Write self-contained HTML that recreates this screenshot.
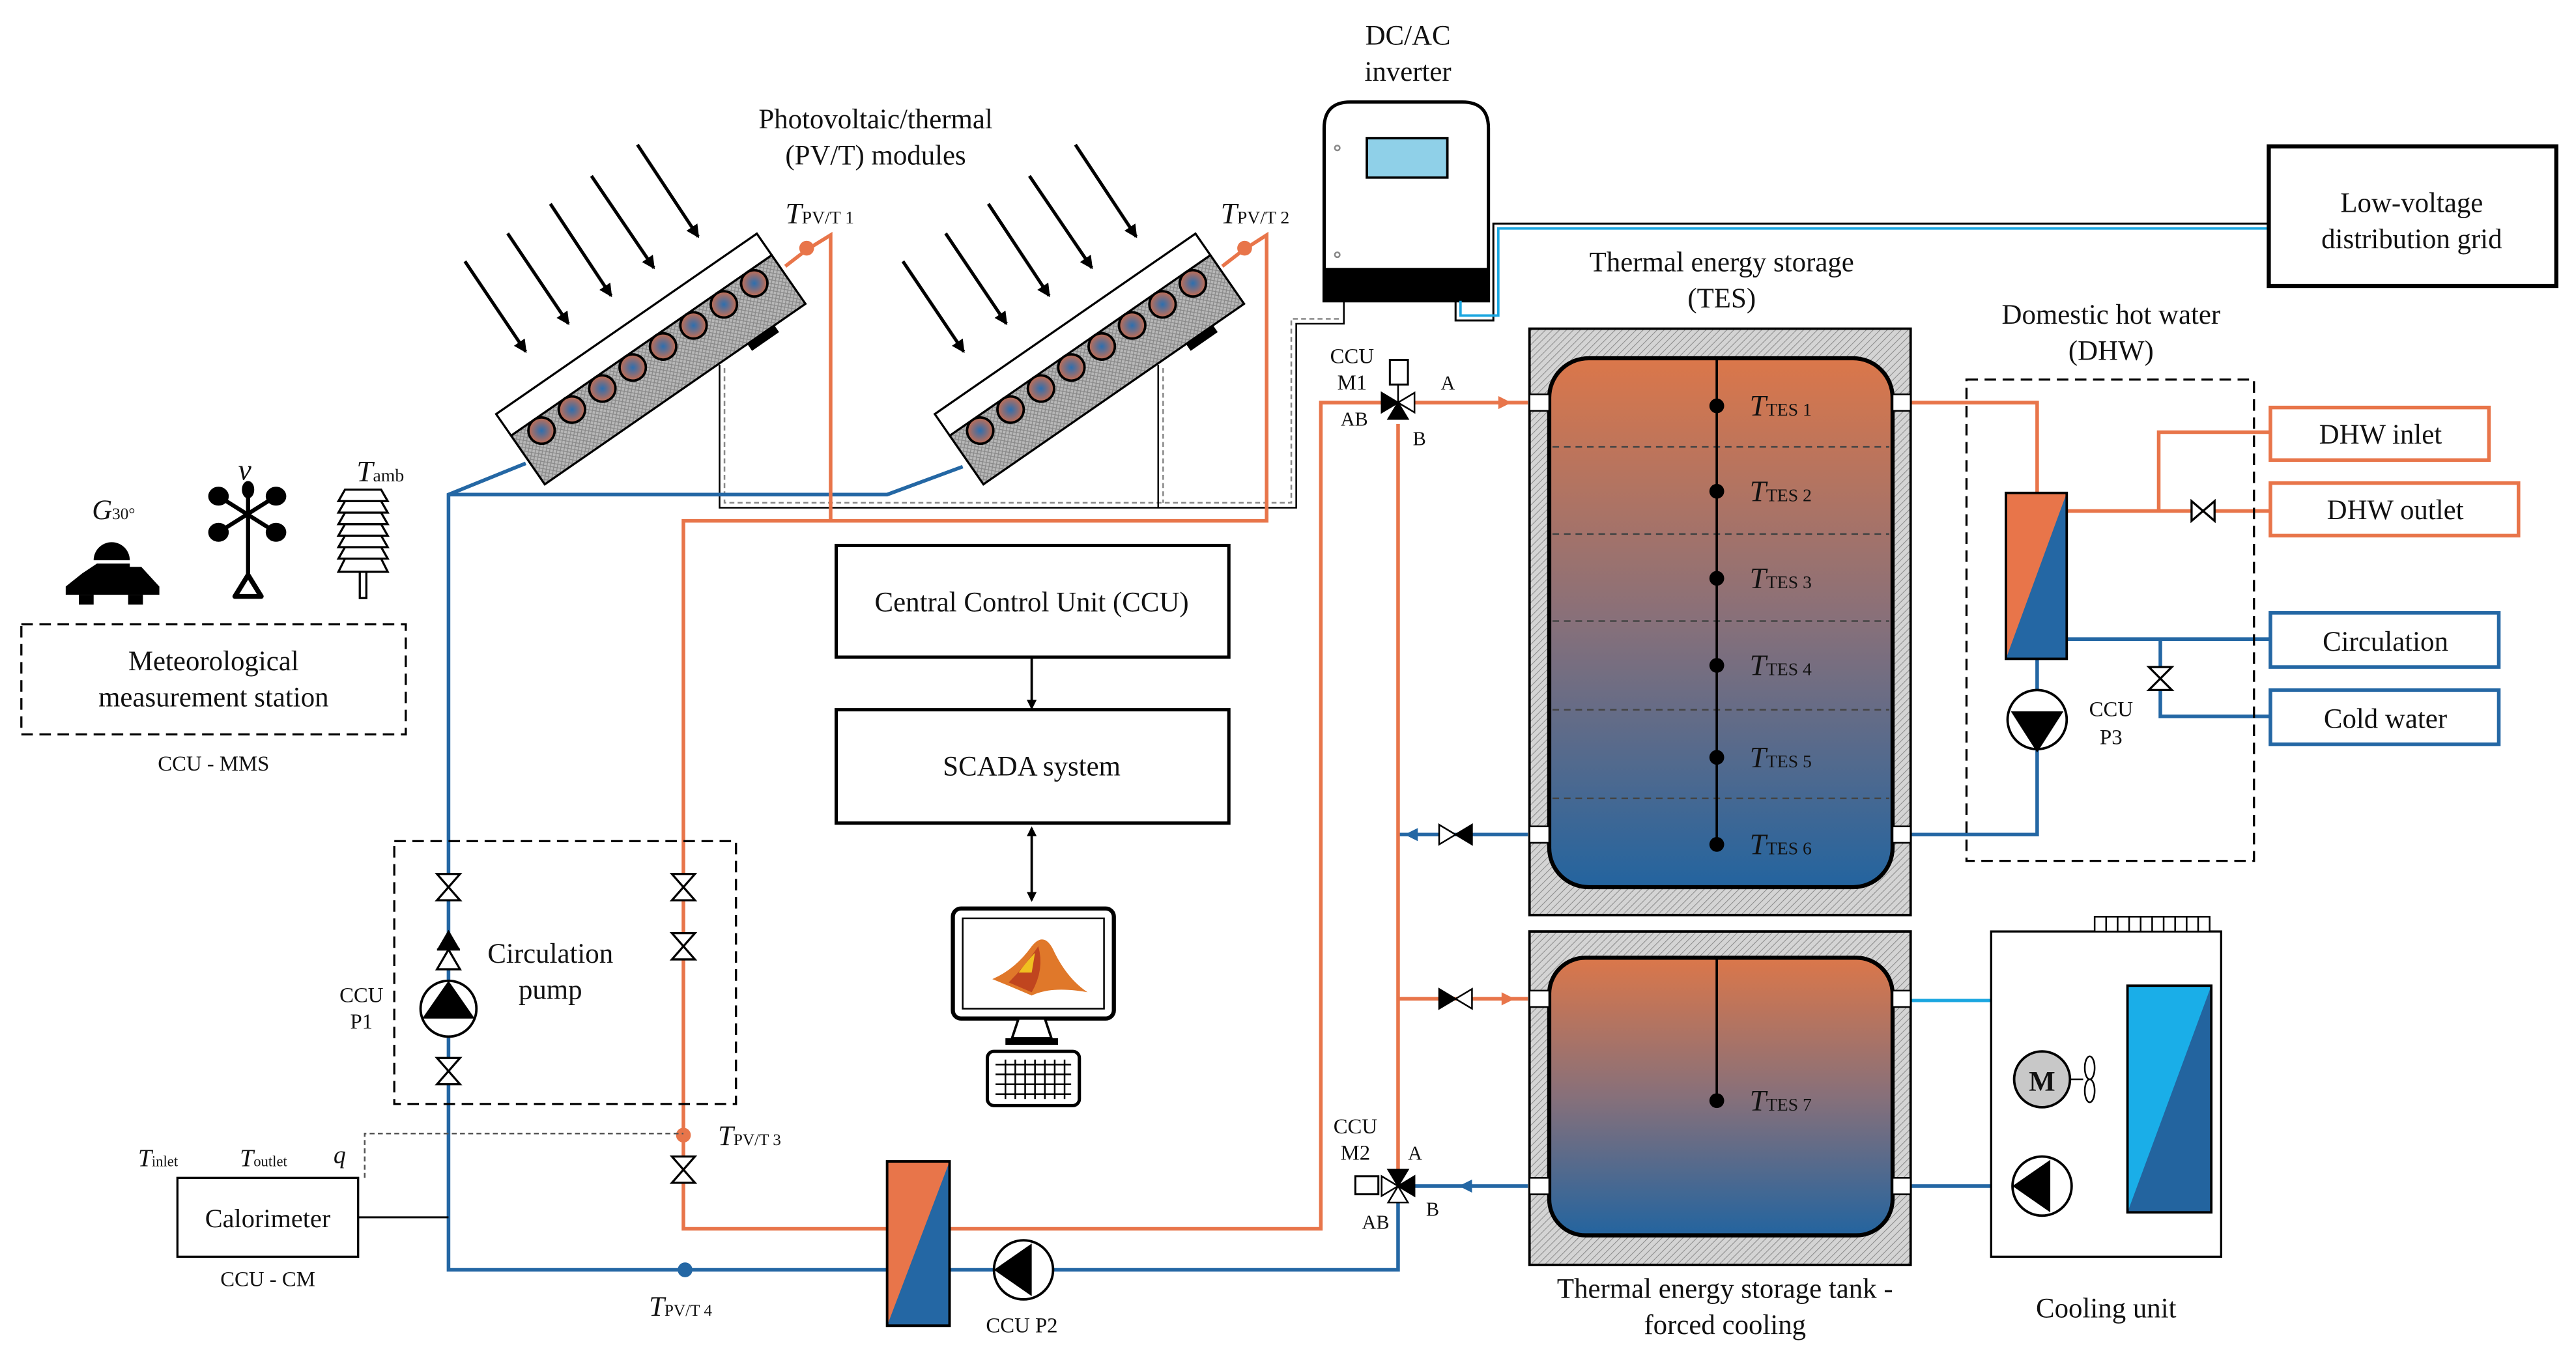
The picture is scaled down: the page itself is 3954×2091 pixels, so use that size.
<!DOCTYPE html>
<html><head><meta charset="utf-8"><style>
html,body{margin:0;padding:0;background:#fff;}
svg{display:block;}
text{font-family:"Liberation Serif",serif;fill:#111;}
</style></head><body>
<svg width="3954" height="2091" viewBox="0 0 1568 829" xmlns="http://www.w3.org/2000/svg">
<defs>
<pattern id="hatch" width="3" height="3" patternUnits="userSpaceOnUse" patternTransform="rotate(45)">
<rect width="3" height="3" fill="#d4d4d4"/><line x1="0" y1="0" x2="0" y2="3" stroke="#8a8a8a" stroke-width="0.8"/></pattern>
<pattern id="cross" width="3" height="3" patternUnits="userSpaceOnUse">
<rect width="3" height="3" fill="#b8b8b8"/><path d="M0 0L3 3M3 0L0 3" stroke="#888" stroke-width="0.5"/></pattern>
<linearGradient id="tg" x1="0" y1="0" x2="0" y2="1"><stop offset="0" stop-color="#db774a"/><stop offset="0.5" stop-color="#87707a"/><stop offset="1" stop-color="#23649f"/></linearGradient>
<radialGradient id="cg"><stop offset="0" stop-color="#2c6fb0"/><stop offset="1" stop-color="#c96d50"/></radialGradient>
<marker id="ah" markerWidth="8" markerHeight="8" refX="7" refY="4" orient="auto" markerUnits="userSpaceOnUse"><path d="M0 0L8 4L0 8Z" fill="#000"/></marker>
<marker id="ahs" markerWidth="6" markerHeight="6" refX="5" refY="3" orient="auto" markerUnits="userSpaceOnUse"><path d="M0 0L6 3L0 6Z" fill="#000"/></marker>
<marker id="ahs2" markerWidth="6" markerHeight="6" refX="1" refY="3" orient="auto" markerUnits="userSpaceOnUse"><path d="M6 0L0 3L6 6Z" fill="#000"/></marker>
<g id="panel">
<rect x="0" y="0" width="193" height="16" fill="#fff" stroke="#000" stroke-width="1.3"/>
<rect x="0" y="16" width="193" height="36" fill="url(#cross)" stroke="#000" stroke-width="1.3"/>
<g stroke="#000" stroke-width="1.5" fill="url(#cg)">
<circle cx="17" cy="24" r="8"/><circle cx="39.5" cy="24" r="8"/><circle cx="62" cy="24" r="8"/><circle cx="84.5" cy="24" r="8"/><circle cx="107" cy="24" r="8"/><circle cx="129.5" cy="24" r="8"/><circle cx="152" cy="24" r="8"/><circle cx="174.5" cy="24" r="8"/></g>
<rect x="150" y="52" width="20" height="5" fill="#000"/>
</g>
<g id="arrows" stroke="#000" stroke-width="2" marker-end="url(#ah)">
<line x1="283" y1="159" x2="320" y2="214"/><line x1="309" y1="142" x2="346" y2="197"/><line x1="335" y1="124" x2="372" y2="180"/><line x1="360" y1="107" x2="398" y2="163"/><line x1="388" y1="88" x2="425" y2="144"/></g>
</defs>

<use href="#arrows"/><use href="#arrows" transform="translate(266.6,0)"/>
<path d="M438 222V309H789V197H818V183" fill="none" stroke="#000" stroke-width="1"/>
<path d="M441 224V306H786V194H815" fill="none" stroke="#888" stroke-width="1" stroke-dasharray="3,2"/>
<path d="M705 222V309" fill="none" stroke="#000" stroke-width="1"/>
<path d="M708 224V306" fill="none" stroke="#888" stroke-width="1" stroke-dasharray="3,2"/>

<g stroke="#2467a4" stroke-width="2.2" fill="none">
<path d="M320 282L273 301V773H540"/>
<path d="M586 284L540 301H273"/>
<path d="M578 773H851V722"/>
<path d="M930 508H851"/>
<path d="M1160 508H1240V401"/>
<path d="M1258 389H1382"/>
<path d="M1315 389V436H1382"/>
<path d="M930 722H858"/>
<path d="M1160 722H1295"/>
</g>
<path d="M1160 609H1295" stroke="#1aa6e0" stroke-width="2"/>
<path d="M855 508l8-4v8z M888 722l8-4v8z" fill="#2467a4"/>
<g stroke="#e8754a" stroke-width="2.2" fill="none">
<path d="M478 162L491 152L505.6 143V317"/>
<path d="M744 162L757 152L771 143V317H416V748H540"/>
<path d="M578 748H804V245H842"/>
<path d="M860 245H930"/>
<path d="M851 258V712"/>
<path d="M851 608H930"/>
<path d="M1160 245H1240V300"/>
<path d="M1258 311H1382"/>
<path d="M1314 311V263H1382"/>
</g>
<path d="M920 245l-8-4v8z M922 608l-8-4v8z" fill="#e8754a"/>
<circle cx="491" cy="151" r="4.5" fill="#e8754a"/><circle cx="757.6" cy="151" r="4.5" fill="#e8754a"/>
<circle cx="416" cy="691" r="4.5" fill="#e8754a"/><circle cx="417" cy="773" r="4.5" fill="#2467a4"/>

<use href="#panel" transform="translate(302,252) rotate(-34.7)"/>
<use href="#panel" transform="translate(569,252) rotate(-34.7)"/>

<text x="533" y="78" font-size="17" text-anchor="middle">Photovoltaic/thermal</text>
<text x="533" y="100" font-size="17" text-anchor="middle">(PV/T) modules</text>
<text x="478" y="136"><tspan font-style="italic" font-size="18">T</tspan><tspan font-size="11">PV/T 1</tspan></text>
<text x="743" y="136"><tspan font-style="italic" font-size="18">T</tspan><tspan font-size="11">PV/T 2</tspan></text>

<text x="857" y="27" font-size="17" text-anchor="middle">DC/AC</text>
<text x="857" y="49" font-size="17" text-anchor="middle">inverter</text>
<path d="M822 62H890Q906 62 906 78V183H806V78Q806 62 822 62Z" fill="#fff" stroke="#000" stroke-width="2"/>
<path d="M806 163H906V183H806Z" fill="#000"/>
<rect x="832" y="84" width="49" height="24" fill="#8fd0e8" stroke="#000" stroke-width="1.5"/>
<circle cx="814" cy="90" r="1.5" fill="none" stroke="#888"/><circle cx="814" cy="155" r="1.5" fill="none" stroke="#888"/>
<path d="M886 183V195H909V136H1381" fill="none" stroke="#000" stroke-width="1.2"/>
<path d="M889 183V192H912V139H1381" fill="none" stroke="#1aa6e0" stroke-width="1.5"/>
<rect x="1381" y="89" width="175" height="85" fill="#fff" stroke="#000" stroke-width="2.5"/>
<text x="1468" y="129" font-size="17" text-anchor="middle">Low-voltage</text>
<text x="1468" y="151" font-size="17" text-anchor="middle">distribution grid</text>

<text x="56" y="316" font-size="17" font-style="italic">G<tspan font-size="10" font-style="normal">30°</tspan></text>
<path d="M57 341a11 11 0 0 1 22 0Z" fill="#000"/>
<path d="M59 343H79V345H86L97 357V362H40V357L50 349L59 343Z" fill="#000"/>
<rect x="48" y="362" width="9" height="6" fill="#000"/><rect x="78" y="362" width="9" height="6" fill="#000"/>
<text x="145" y="292" font-size="18" font-style="italic">v</text>
<g stroke="#000" stroke-width="2.5" fill="#000">
<line x1="151" y1="298" x2="151" y2="355"/><line x1="133" y1="302" x2="168" y2="324"/><line x1="168" y1="302" x2="133" y2="324"/>
<ellipse cx="133" cy="302" rx="5" ry="4.5"/><ellipse cx="168" cy="302" rx="5" ry="4.5"/><ellipse cx="133" cy="324" rx="5" ry="4.5"/><ellipse cx="168" cy="324" rx="5" ry="4.5"/><ellipse cx="151" cy="298" rx="2.5" ry="4"/>
<path d="M151 350L143 363H159Z" stroke-width="3" fill="#fff" stroke-linejoin="round"/></g>
<text x="217" y="293"><tspan font-style="italic" font-size="18">T</tspan><tspan font-size="11">amb</tspan></text>
<g fill="#fff" stroke="#000" stroke-width="1.3">
<rect x="219" y="342" width="4" height="22"/>
<path d="M210 340L206 348H236L232 340Z"/><path d="M210 333L206 340H236L232 333Z"/><path d="M210 326L206 333H236L232 326Z"/><path d="M210 319L206 326H236L232 319Z"/><path d="M210 312L206 319H236L232 312Z"/><path d="M210 305L206 312H236L232 305Z"/><path d="M210 298L206 305H236L232 298Z"/></g>
<rect x="13" y="380" width="234" height="67" fill="none" stroke="#000" stroke-width="1.3" stroke-dasharray="7,4"/>
<text x="130" y="408" font-size="17" text-anchor="middle">Meteorological</text>
<text x="130" y="430" font-size="17" text-anchor="middle">measurement station</text>
<text x="130" y="469" font-size="13" text-anchor="middle">CCU - MMS</text>

<rect x="509" y="332" width="239" height="68" fill="#fff" stroke="#000" stroke-width="2"/>
<text x="628" y="372" font-size="17" text-anchor="middle">Central Control Unit (CCU)</text>
<line x1="628" y1="400" x2="628" y2="431" stroke="#000" stroke-width="1.5" marker-end="url(#ahs)"/>
<rect x="509" y="432" width="239" height="69" fill="#fff" stroke="#000" stroke-width="2"/>
<text x="628" y="472" font-size="17" text-anchor="middle">SCADA system</text>
<line x1="628" y1="504" x2="628" y2="548" stroke="#000" stroke-width="1.5" marker-end="url(#ahs)" marker-start="url(#ahs2)"/>
<rect x="580" y="553" width="98" height="67" rx="5" fill="#fff" stroke="#000" stroke-width="2.5"/>
<rect x="586" y="559" width="86" height="55" fill="#fff" stroke="#000" stroke-width="1"/>
<path d="M604 596Q618 590 628 576Q636 566 642 580Q650 596 662 604Q640 600 628 606Q614 600 604 596Z" fill="#e0782a"/>
<path d="M614 598Q624 588 632 576Q636 590 628 604Z" fill="#c0451f"/>
<path d="M620 592Q626 584 630 580L628 592Z" fill="#f0c020"/>
<path d="M620 620H636L640 632H616Z" fill="#fff" stroke="#000" stroke-width="1.5"/>
<rect x="612" y="632" width="32" height="4" fill="#000"/>
<rect x="601" y="640" width="56" height="33" rx="4" fill="#fff" stroke="#000" stroke-width="2"/>
<path d="M606 648H652M606 654H652M606 660H652M606 666H652M612 645V669M618 645V669M624 645V669M630 645V669M636 645V669M642 645V669M648 645V669" stroke="#000" stroke-width="1"/>

<rect x="240" y="512" width="208" height="160" fill="none" stroke="#000" stroke-width="1.3" stroke-dasharray="7,4"/>
<text x="335" y="586" font-size="17" text-anchor="middle">Circulation</text>
<text x="335" y="608" font-size="17" text-anchor="middle">pump</text>
<g fill="#fff" stroke="#000" stroke-width="1.3">
<path d="M266 532H280L266 548H280Z"/><path d="M266 644H280L266 660H280Z"/>
<path d="M409 532H423L409 548H423Z"/><path d="M409 568H423L409 584H423Z"/>
<path d="M409 704H423L409 720H423Z"/>
<path d="M1334 305V317L1348 305V317Z"/>
<path d="M1308 406H1322L1308 420H1322Z"/>
</g>
<path d="M266 578L280 578L273 566Z" fill="#000"/>
<path d="M273 578L266 590H280Z" fill="#fff" stroke="#000" stroke-width="1.3"/>
<path d="M266 578H280" stroke="#000" stroke-width="1.3"/>
<circle cx="273" cy="614" r="17" fill="#fff" stroke="#000" stroke-width="1.5"/>
<path d="M273 597L257 620H289Z" fill="#000"/>
<text x="220" y="610" font-size="13" text-anchor="middle">CCU</text>
<text x="220" y="626" font-size="13" text-anchor="middle">P1</text>
<text x="437" y="697"><tspan font-style="italic" font-size="17">T</tspan><tspan font-size="10">PV/T 3</tspan></text>
<text x="395" y="801"><tspan font-style="italic" font-size="17">T</tspan><tspan font-size="10">PV/T 4</tspan></text>

<path d="M222 717V690H416" fill="none" stroke="#555" stroke-width="1" stroke-dasharray="3,2"/>
<line x1="218" y1="741" x2="273" y2="741" stroke="#000" stroke-width="1.2"/>
<rect x="108" y="717" width="110" height="48" fill="#fff" stroke="#000" stroke-width="1.3"/>
<text x="163" y="747" font-size="16" text-anchor="middle">Calorimeter</text>
<text x="163" y="783" font-size="13" text-anchor="middle">CCU - CM</text>
<text x="84" y="710"><tspan font-style="italic" font-size="15">T</tspan><tspan font-size="9">inlet</tspan></text>
<text x="146" y="710"><tspan font-style="italic" font-size="15">T</tspan><tspan font-size="9">outlet</tspan></text>
<text x="203" y="708" font-size="15" font-style="italic">q</text>

<rect x="540" y="707" width="38" height="100" fill="#2467a4" stroke="#000" stroke-width="1.5"/>
<path d="M540 707H578L540 807Z" fill="#e8754a"/>
<rect x="540" y="707" width="38" height="100" fill="none" stroke="#000" stroke-width="1.5"/>
<circle cx="623" cy="773" r="18" fill="#fff" stroke="#000" stroke-width="1.5"/>
<path d="M605 773L628 757V789Z" fill="#000"/>
<text x="622" y="811" font-size="13" text-anchor="middle">CCU P2</text>

<rect x="846" y="219" width="11" height="15" fill="#fff" stroke="#000" stroke-width="1.2"/>
<line x1="851" y1="234" x2="851" y2="245" stroke="#000"/>
<path d="M851 245L841 239V251Z" fill="#000" stroke="#000"/>
<path d="M851 245L861 239V251Z" fill="#fff" stroke="#000"/>
<path d="M851 245L845 255H857Z" fill="#000" stroke="#000"/>
<text x="823" y="221" font-size="13" text-anchor="middle">CCU</text>
<text x="823" y="237" font-size="13" text-anchor="middle">M1</text>
<text x="877" y="237" font-size="12">A</text>
<text x="816" y="259" font-size="12">AB</text>
<text x="860" y="271" font-size="12">B</text>
<rect x="825" y="716" width="14" height="11" fill="#fff" stroke="#000" stroke-width="1.2"/>
<path d="M851 722L841 716V728Z" fill="#fff" stroke="#000"/>
<path d="M851 722L861 716V728Z" fill="#000" stroke="#000"/>
<path d="M851 722L845 712H857Z" fill="#000" stroke="#000"/>
<path d="M851 722L845 732H857Z" fill="#fff" stroke="#000"/>
<text x="825" y="690" font-size="13" text-anchor="middle">CCU</text>
<text x="825" y="706" font-size="13" text-anchor="middle">M2</text>
<text x="857" y="706" font-size="12">A</text>
<text x="829" y="748" font-size="12">AB</text>
<text x="868" y="740" font-size="12">B</text>
<path d="M876 502V514L886 508Z" fill="#fff" stroke="#000"/><path d="M896 502V514L886 508Z" fill="#000" stroke="#000"/>
<path d="M876 602V614L886 608Z" fill="#000" stroke="#000"/><path d="M896 602V614L886 608Z" fill="#fff" stroke="#000"/>

<text x="1048" y="165" font-size="17" text-anchor="middle">Thermal energy storage</text>
<text x="1048" y="187" font-size="17" text-anchor="middle">(TES)</text>
<rect x="931" y="200" width="232" height="357" fill="url(#hatch)" stroke="#000" stroke-width="1.5"/>
<rect x="943" y="218" width="209" height="322" rx="24" fill="url(#tg)" stroke="#000" stroke-width="2.5"/>
<g stroke="#444" stroke-width="1" stroke-dasharray="4,3"><line x1="945" y1="272" x2="1150" y2="272"/><line x1="945" y1="325" x2="1150" y2="325"/><line x1="945" y1="378" x2="1150" y2="378"/><line x1="945" y1="432" x2="1150" y2="432"/><line x1="945" y1="486" x2="1150" y2="486"/></g>
<rect x="931" y="567" width="232" height="203" fill="url(#hatch)" stroke="#000" stroke-width="1.5"/>
<rect x="943" y="583" width="209" height="169" rx="22" fill="url(#tg)" stroke="#000" stroke-width="2.5"/>
<line x1="1045" y1="218" x2="1045" y2="514" stroke="#000" stroke-width="1.5"/>
<line x1="1045" y1="583" x2="1045" y2="670" stroke="#000" stroke-width="1.5"/>
<g fill="#000"><circle cx="1045" cy="247" r="4.5"/><circle cx="1045" cy="299" r="4.5"/><circle cx="1045" cy="352" r="4.5"/><circle cx="1045" cy="405" r="4.5"/><circle cx="1045" cy="461" r="4.5"/><circle cx="1045" cy="514" r="4.5"/><circle cx="1045" cy="670" r="4.5"/></g>
<g font-size="11"><text x="1065" y="253"><tspan font-style="italic" font-size="18">T</tspan>TES 1</text><text x="1065" y="305"><tspan font-style="italic" font-size="18">T</tspan>TES 2</text><text x="1065" y="358"><tspan font-style="italic" font-size="18">T</tspan>TES 3</text><text x="1065" y="411"><tspan font-style="italic" font-size="18">T</tspan>TES 4</text><text x="1065" y="467"><tspan font-style="italic" font-size="18">T</tspan>TES 5</text><text x="1065" y="520"><tspan font-style="italic" font-size="18">T</tspan>TES 6</text><text x="1065" y="676"><tspan font-style="italic" font-size="18">T</tspan>TES 7</text></g>
<g fill="#fff" stroke="#000" stroke-width="1"><rect x="931" y="240" width="12" height="10"/><rect x="1152" y="240" width="11" height="10"/><rect x="931" y="503" width="12" height="10"/><rect x="1152" y="503" width="11" height="10"/>
<rect x="931" y="603" width="12" height="10"/><rect x="1152" y="603" width="11" height="10"/><rect x="931" y="717" width="12" height="10"/><rect x="1152" y="717" width="11" height="10"/></g>
<text x="1050" y="790" font-size="17" text-anchor="middle">Thermal energy storage tank -</text>
<text x="1050" y="812" font-size="17" text-anchor="middle">forced cooling</text>

<text x="1285" y="197" font-size="17" text-anchor="middle">Domestic hot water</text>
<text x="1285" y="219" font-size="17" text-anchor="middle">(DHW)</text>
<rect x="1197" y="231" width="175" height="293" fill="none" stroke="#000" stroke-width="1.3" stroke-dasharray="7,4"/>
<rect x="1221" y="300" width="37" height="101" fill="#2467a4"/>
<path d="M1221 300H1258L1221 401Z" fill="#e8754a"/>
<rect x="1221" y="300" width="37" height="101" fill="none" stroke="#000" stroke-width="1.5"/>
<circle cx="1240" cy="438" r="18" fill="#fff" stroke="#000" stroke-width="1.5"/>
<path d="M1240 458L1224 433H1256Z" fill="#000"/>
<text x="1285" y="436" font-size="13" text-anchor="middle">CCU</text>
<text x="1285" y="453" font-size="13" text-anchor="middle">P3</text>
<g fill="#fff" stroke-width="2.2"><rect x="1382" y="248" width="133" height="32" stroke="#e8754a"/><rect x="1382" y="294" width="151" height="32" stroke="#e8754a"/><rect x="1382" y="373" width="139" height="33" stroke="#2467a4"/><rect x="1382" y="420" width="139" height="33" stroke="#2467a4"/></g>
<text x="1449" y="270" font-size="17" text-anchor="middle">DHW inlet</text>
<text x="1458" y="316" font-size="17" text-anchor="middle">DHW outlet</text>
<text x="1452" y="396" font-size="17" text-anchor="middle">Circulation</text>
<text x="1452" y="443" font-size="17" text-anchor="middle">Cold water</text>

<rect x="1212" y="567" width="140" height="198" fill="#fff" stroke="#000" stroke-width="1.3"/>
<rect x="1275" y="558" width="70" height="9" fill="#fff" stroke="#000" stroke-width="1"/>
<path d="M1282 558V567M1289 558V567M1296 558V567M1303 558V567M1310 558V567M1317 558V567M1324 558V567M1331 558V567M1338 558V567" stroke="#000" stroke-width="1"/>
<rect x="1295" y="600" width="51" height="138" fill="#23649f"/>
<path d="M1295 600H1346L1295 738Z" fill="#1aaee8"/>
<rect x="1295" y="600" width="51" height="138" fill="none" stroke="#000" stroke-width="1.5"/>
<circle cx="1243" cy="657" r="17" fill="#c8c8c8" stroke="#000" stroke-width="1.5"/>
<text x="1243" y="664" font-size="17" font-weight="bold" text-anchor="middle">M</text>
<line x1="1260" y1="657" x2="1268" y2="657" stroke="#000"/>
<ellipse cx="1272" cy="650" rx="3" ry="7" fill="#fff" stroke="#000"/><ellipse cx="1272" cy="664" rx="3" ry="7" fill="#fff" stroke="#000"/>
<circle cx="1243" cy="722" r="18" fill="#fff" stroke="#000" stroke-width="1.5"/>
<path d="M1225 722L1248 706V738Z" fill="#000"/>
<text x="1282" y="802" font-size="17" text-anchor="middle">Cooling unit</text>
</svg>
</body></html>
